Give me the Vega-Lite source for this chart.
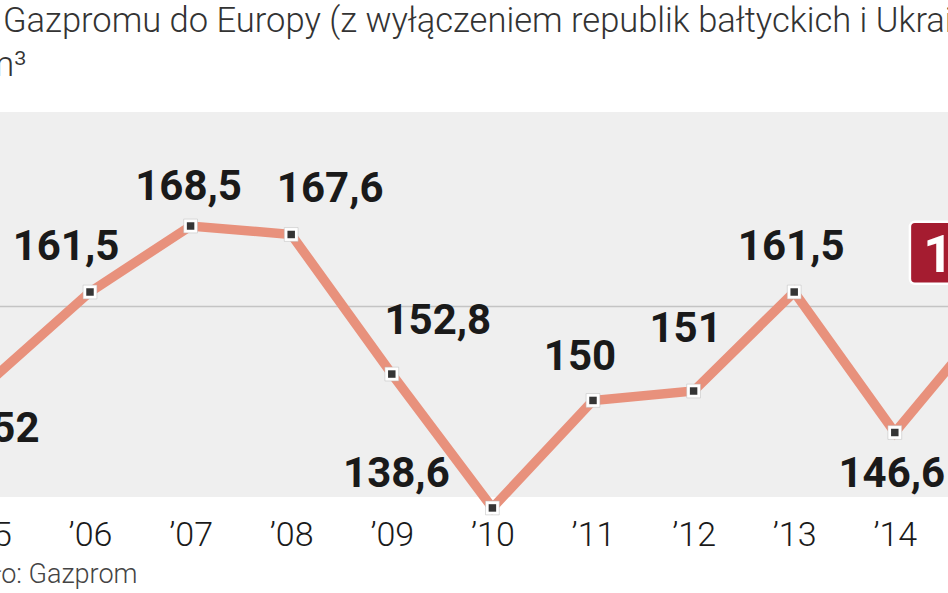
{
  "$schema": "https://vega.github.io/schema/vega-lite/v6.json",
  "width": 948,
  "height": 385,
  "autosize": {"type": "none"},
  "padding": {"left": 0, "top": 112, "right": 0, "bottom": 96},
  "background": "white",
  "view": {"fill": "#efefef", "stroke": null},
  "title": {
    "text": "Gazpromu do Europy (z wyłączeniem republik bałtyckich i Ukrainy)",
    "anchor": "start",
    "frame": "group",
    "font": "Roboto",
    "fontSize": 34.5,
    "fontWeight": 300,
    "color": "#333333",
    "baseline": "alphabetic",
    "offset": -19,
    "dx": 3
  },
  "data": {
    "values": [
      {"rok": "’05", "wartosc": 152, "etykieta": "152"},
      {"rok": "’06", "wartosc": 161.5, "etykieta": "161,5"},
      {"rok": "’07", "wartosc": 168.5, "etykieta": "168,5"},
      {"rok": "’08", "wartosc": 167.6, "etykieta": "167,6"},
      {"rok": "’09", "wartosc": 152.8, "etykieta": "152,8"},
      {"rok": "’10", "wartosc": 138.6, "etykieta": "138,6"},
      {"rok": "’11", "wartosc": 150, "etykieta": "150"},
      {"rok": "’12", "wartosc": 151, "etykieta": "151"},
      {"rok": "’13", "wartosc": 161.5, "etykieta": "161,5"},
      {"rok": "’14", "wartosc": 146.6, "etykieta": "146,6"},
      {"rok": "’15", "wartosc": 159.4, "etykieta": "159,4"}
    ]
  },
  "encoding": {
    "x": {
      "field": "rok",
      "type": "ordinal",
      "sort": null,
      "scale": {"type": "point", "range": [-10.6, 995.4], "padding": 0},
      "axis": {
        "title": "Źródło: Gazprom",
        "titleX": 137,
        "titleY": 85,
        "titleAlign": "right",
        "titleBaseline": "alphabetic",
        "titleFont": "Roboto",
        "titleFontSize": 27,
        "titleFontWeight": 300,
        "titleColor": "#444444",
        "labelAngle": 0,
        "labelFont": "Roboto",
        "labelFontSize": 34,
        "labelFontWeight": 300,
        "labelColor": "#1a1a1a",
        "labelBaseline": "alphabetic",
        "labelPadding": 48,
        "ticks": false,
        "tickSize": 0,
        "domain": false,
        "grid": false,
        "labelOverlap": false
      }
    },
    "y": {
      "field": "wartosc",
      "type": "quantitative",
      "scale": {"domain": [139.76, 180.59], "zero": false, "nice": false},
      "axis": {
        "values": [160],
        "grid": true,
        "gridColor": "#c4c4c4",
        "gridWidth": 1.5,
        "domain": false,
        "ticks": false,
        "labels": false,
        "title": "mld m³",
        "titleX": 26,
        "titleY": -37,
        "titleAngle": 0,
        "titleAlign": "right",
        "titleBaseline": "alphabetic",
        "titleFont": "Roboto",
        "titleFontSize": 34.5,
        "titleFontWeight": 300,
        "titleColor": "#333333"
      }
    }
  },
  "layer": [
    {"mark": {"type": "line", "color": "#e8917c", "strokeWidth": 9.5, "strokeJoin": "miter"}},
    {"mark": {"type": "point", "shape": "square", "filled": true, "color": "#ffffff", "size": 190, "opacity": 1, "stroke": "#bbbbbb", "strokeWidth": 0.5}},
    {"mark": {"type": "point", "shape": "square", "filled": true, "color": "#353535", "size": 56, "opacity": 1}},
    {
      "transform": [{"filter": "datum.rok === '’15'"}],
      "mark": {"type": "rect", "color": "#a51c30", "width": 141, "height": 62, "cornerRadius": 5, "stroke": "#ffffff", "strokeWidth": 2.5, "xOffset": -15, "yOffset": -59, "opacity": 1}
    },
    {
      "transform": [{"filter": "datum.rok === '’15'"}],
      "mark": {"type": "text", "font": "Roboto", "fontWeight": "bold", "fontSize": 52, "color": "#ffffff", "align": "center", "baseline": "alphabetic", "dx": -6, "dy": -40},
      "encoding": {"text": {"field": "etykieta"}}
    },
    {
      "transform": [{"filter": "datum.rok === '’05'"}],
      "mark": {"type": "text", "font": "Roboto", "fontWeight": "bold", "fontSize": 42, "color": "#1a1a1a", "align": "center", "baseline": "alphabetic", "dx": 14, "dy": 60},
      "encoding": {"text": {"field": "etykieta"}}
    },
    {
      "transform": [{"filter": "datum.rok === '’06'"}],
      "mark": {"type": "text", "font": "Roboto", "fontWeight": "bold", "fontSize": 42, "color": "#1a1a1a", "align": "center", "baseline": "alphabetic", "dx": -24, "dy": -32},
      "encoding": {"text": {"field": "etykieta"}}
    },
    {
      "transform": [{"filter": "datum.rok === '’07'"}],
      "mark": {"type": "text", "font": "Roboto", "fontWeight": "bold", "fontSize": 42, "color": "#1a1a1a", "align": "center", "baseline": "alphabetic", "dx": -2, "dy": -26},
      "encoding": {"text": {"field": "etykieta"}}
    },
    {
      "transform": [{"filter": "datum.rok === '’08'"}],
      "mark": {"type": "text", "font": "Roboto", "fontWeight": "bold", "fontSize": 42, "color": "#1a1a1a", "align": "center", "baseline": "alphabetic", "dx": 39, "dy": -32},
      "encoding": {"text": {"field": "etykieta"}}
    },
    {
      "transform": [{"filter": "datum.rok === '’09'"}],
      "mark": {"type": "text", "font": "Roboto", "fontWeight": "bold", "fontSize": 42, "color": "#1a1a1a", "align": "center", "baseline": "alphabetic", "dx": 46, "dy": -40},
      "encoding": {"text": {"field": "etykieta"}}
    },
    {
      "transform": [{"filter": "datum.rok === '’10'"}],
      "mark": {"type": "text", "font": "Roboto", "fontWeight": "bold", "fontSize": 42, "color": "#1a1a1a", "align": "center", "baseline": "alphabetic", "dx": -96, "dy": -21},
      "encoding": {"text": {"field": "etykieta"}}
    },
    {
      "transform": [{"filter": "datum.rok === '’11'"}],
      "mark": {"type": "text", "font": "Roboto", "fontWeight": "bold", "fontSize": 42, "color": "#1a1a1a", "align": "center", "baseline": "alphabetic", "dx": -13, "dy": -30},
      "encoding": {"text": {"field": "etykieta"}}
    },
    {
      "transform": [{"filter": "datum.rok === '’12'"}],
      "mark": {"type": "text", "font": "Roboto", "fontWeight": "bold", "fontSize": 42, "color": "#1a1a1a", "align": "center", "baseline": "alphabetic", "dx": -8, "dy": -49},
      "encoding": {"text": {"field": "etykieta"}}
    },
    {
      "transform": [{"filter": "datum.rok === '’13'"}],
      "mark": {"type": "text", "font": "Roboto", "fontWeight": "bold", "fontSize": 42, "color": "#1a1a1a", "align": "center", "baseline": "alphabetic", "dx": -3, "dy": -32},
      "encoding": {"text": {"field": "etykieta"}}
    },
    {
      "transform": [{"filter": "datum.rok === '’14'"}],
      "mark": {"type": "text", "font": "Roboto", "fontWeight": "bold", "fontSize": 42, "color": "#1a1a1a", "align": "center", "baseline": "alphabetic", "dx": -3, "dy": 54},
      "encoding": {"text": {"field": "etykieta"}}
    }
  ]
}
